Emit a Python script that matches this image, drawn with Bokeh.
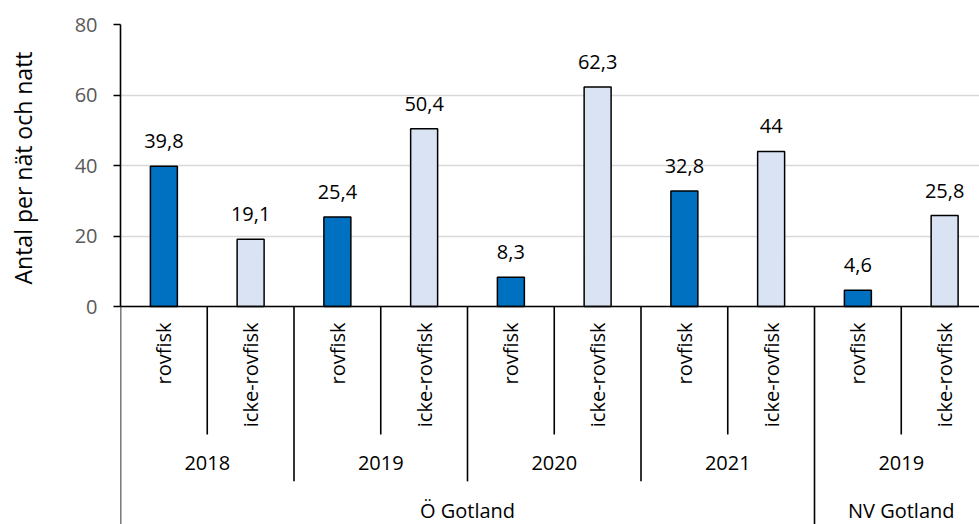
import numpy as np
from bokeh.plotting import figure
from bokeh.layouts import row
from bokeh.models import Range1d, FixedTicker, Span
from bokeh.core.properties import value
from bokeh.embed import file_html
from bokeh.resources import INLINE

# ---- data -------------------------------------------------------------
regions = ["Ö Gotland"] * 8 + ["NV Gotland"] * 2
years = ["2018", "2018", "2019", "2019", "2020", "2020", "2021", "2021", "2019", "2019"]
fish_types = ["rovfisk", "icke-rovfisk"] * 5
counts = [39.8, 19.1, 25.4, 50.4, 8.3, 62.3, 32.8, 44, 4.6, 25.8]
y_ticks = [0, 20, 40, 60, 80]
y_title = "Antal per nät och natt"

# ---- styling ----------------------------------------------------------
FONT = "Open Sans"
FS = "20px"
TITLE_FS = "23px"
type_colors = {"rovfisk": "#0070C0", "icke-rovfisk": "#DAE3F3"}

n = len(counts)
x = np.arange(n) + 0.5
bar_colors = [type_colors[t] for t in fish_types]
value_labels = [f"{v:g}".replace(".", ",") for v in counts]

# positions (in data units below zero) of the category-axis tiers
TYPE_LABEL_TOP = -4.5
TYPE_DEPTH = -36.3
YEAR_LABEL_Y = -44.5
YEAR_DEPTH = -49.6
REGION_LABEL_Y = -57.9
Y_BOTTOM = -61.84
X_END = 9.902
LABEL_GAP = 7.1          # bar top to centre of its value label (data units)
TITLE_W = 46             # width of the strip holding the value-axis title


def runs(keys):
    out, start = [], 0
    for i in range(1, len(keys) + 1):
        if i == len(keys) or keys[i] != keys[start]:
            out.append((keys[start], start, i))
            start = i
    return out


year_groups = runs(list(zip(regions, years)))
region_groups = runs(regions)
year_bounds = {b for _, s, e in year_groups for b in (s, e)}
region_bounds = {b for _, s, e in region_groups for b in (s, e)}

y_range = Range1d(Y_BOTTOM, 80)

p = figure(width=979 - TITLE_W, height=524, output_backend="svg", toolbar_location=None,
           x_range=Range1d(0, X_END), y_range=y_range,
           x_axis_location=None, min_border_left=120 - TITLE_W, min_border_right=0,
           min_border_top=24, min_border_bottom=0)
p.outline_line_color = None
p.background_fill_color = "white"
p.border_fill_color = "white"

# horizontal gridlines
p.xgrid.visible = False
p.ygrid.ticker = FixedTicker(ticks=y_ticks)
p.ygrid.grid_line_color = "#D9D9D9"
p.ygrid.grid_line_width = 1.3

# value axis
ax = p.yaxis[0]
ax.ticker = FixedTicker(ticks=y_ticks)
ax.bounds = (0, 80)
ax.axis_line_color = "black"
ax.axis_line_width = 1.6
ax.major_tick_line_color = "black"
ax.major_tick_line_width = 1.6
ax.major_tick_out = 7
ax.major_tick_in = 0
ax.minor_tick_line_color = None
ax.major_label_standoff = 16
ax.major_label_text_font = FONT
ax.major_label_text_font_size = FS
ax.major_label_text_color = "#595959"

# bars
p.vbar(x=x, top=counts, width=0.311, bottom=0, fill_color=bar_colors,
       line_color="black", line_width=1.5)

# value labels
p.text(x=x, y=[c + LABEL_GAP for c in counts], text=value_labels, text_align="center",
       text_baseline="middle", text_font=value(FONT),
       text_font_size=FS, text_color="black")

# category axis line
p.add_layout(Span(location=0, dimension="width", line_color="black", line_width=1.6))

# tier separators
sep_x, sep_bottom = [], []
for b in range(n + 1):
    sep_x.append(b)
    if b in region_bounds:
        sep_bottom.append(Y_BOTTOM)
    elif b in year_bounds:
        sep_bottom.append(YEAR_DEPTH)
    else:
        sep_bottom.append(TYPE_DEPTH)
p.segment(x0=sep_x, y0=[0] * len(sep_x), x1=sep_x, y1=sep_bottom,
          line_color="black", line_width=1.6)

# fish-type labels (rotated)
p.text(x=x, y=[TYPE_LABEL_TOP] * n, text=fish_types, angle=np.pi / 2,
       text_align="right", text_baseline="middle", text_font=value(FONT),
       text_font_size=FS, text_color="black")

# year labels
p.text(x=[(s + e) / 2 for _, s, e in year_groups], y=[YEAR_LABEL_Y] * len(year_groups),
       text=[k[1] for k, _, _ in year_groups], text_align="center",
       text_baseline="middle", text_font=value(FONT), text_font_size=FS,
       text_color="black")

# region labels
p.text(x=[(s + e) / 2 for _, s, e in region_groups],
       y=[REGION_LABEL_Y] * len(region_groups),
       text=[k for k, _, _ in region_groups], text_align="center",
       text_baseline="middle", text_font=value(FONT), text_font_size=FS,
       text_color="black")

# strip on the left carrying the value-axis title
t = figure(width=TITLE_W, height=524, output_backend="svg", toolbar_location=None,
           x_range=Range1d(0, TITLE_W), y_range=y_range,
           x_axis_location=None, y_axis_location=None,
           min_border_left=0, min_border_right=0, min_border_top=24, min_border_bottom=0)
t.outline_line_color = None
t.grid.visible = False
t.background_fill_color = "white"
t.border_fill_color = "white"
t.text(x=[22], y=[39.3], text=[y_title], angle=np.pi / 2, text_align="center",
       text_baseline="middle", text_font=value(FONT), text_font_size=TITLE_FS,
       text_color="black")

layout = row(t, p, spacing=0)
open("out.html", "w").write(file_html(layout, INLINE))
